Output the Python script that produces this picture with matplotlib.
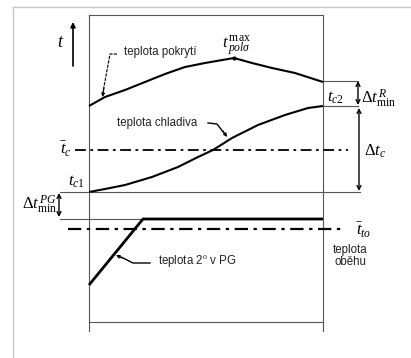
import matplotlib
matplotlib.use("Agg")
import matplotlib.pyplot as plt
from matplotlib.patches import FancyArrowPatch

plt.rcParams['mathtext.fontset'] = 'custom'
plt.rcParams['mathtext.rm'] = 'Liberation Serif'
plt.rcParams['mathtext.it'] = 'Liberation Serif:italic'
plt.rcParams['mathtext.bf'] = 'Liberation Serif:bold'

# ---- data (diagram coordinates, pixel-like units, y grows downward) ----
cover_x = [89, 105, 125, 145, 165, 185, 205, 234, 252, 272, 295, 323]
cover_y = [106, 97, 90, 82, 74, 67, 63, 58, 63, 68, 73, 82]

coolant_x = [89, 105, 125, 152, 178, 198, 213, 232, 258, 285, 308, 323]
coolant_y = [192, 189, 185, 177, 167, 157, 150, 138, 125, 115, 108, 106]

secondary_x = [89, 143, 323]
secondary_y = [285, 219, 219]

box_left, box_right, box_top, box_bottom, box_line = 89, 323, 15, 331, 322
tc_mean_y = 150
tto_mean_y = 229
tc1_y = 192
tc2_y = 106
cover_end_y = 81
pg_y = 219

fig = plt.figure(figsize=(4.11, 3.58), dpi=100)
ax = fig.add_axes([0, 0, 1, 1])
ax.set_xlim(0, 411)
ax.set_ylim(358, 0)
ax.axis('off')

thin = dict(color='#555555', lw=0.8)
# outer light frame
ax.plot([13, 411], [7, 7], color='#c8c8c8', lw=1.0)
ax.plot([13, 13], [7, 358], color='#c8c8c8', lw=1.0)

# inner box
ax.plot([box_left, box_right], [box_top, box_top], **thin)
ax.plot([box_left, box_left], [box_top, box_bottom], **thin)
ax.plot([box_right, box_right], [box_top, box_bottom], **thin)
ax.plot([box_left, box_right], [box_line, box_line], **thin)

# reference lines
ax.plot([box_right, 358], [cover_end_y, cover_end_y], **thin)
ax.plot([box_right, 358], [tc2_y, tc2_y], **thin)
ax.plot([60, 360], [tc1_y, tc1_y], **thin)
ax.plot([60, 143], [pg_y, pg_y], **thin)

# dash-dot mean lines
dd = (0, (6, 2.5, 1.5, 2.5))
ax.plot([75, 348], [tc_mean_y, tc_mean_y], color='black', lw=1.3, linestyle=dd)
ax.plot([68, 342], [tto_mean_y, tto_mean_y], color='black', lw=1.6, linestyle=dd)

# curves
ax.plot(cover_x, cover_y, color='black', lw=1.5, solid_capstyle='butt')
ax.plot(coolant_x, coolant_y, color='black', lw=1.5, solid_capstyle='butt')
ax.plot(secondary_x, secondary_y, color='black', lw=2.0, solid_capstyle='butt')
ax.plot([234], [58], marker='o', ms=2, color='black')

def arrow(p0, p1, style='->', lw=0.9, color='black', ms=6):
    ax.add_patch(FancyArrowPatch(p0, p1, arrowstyle=style, mutation_scale=ms,
                                 lw=lw, color=color, shrinkA=0, shrinkB=0))

# t axis arrow
arrow((73, 66), (73, 22), style='-|>', lw=1.2, ms=7)
ax.text(61, 42, r'$t$', fontsize=13, ha='center', va='center')

sans = dict(fontsize=8.3, family='Liberation Sans', color='#222222')

# leaders
ax.plot([117, 110, 103], [54, 54, 92], color='black', lw=0.8, linestyle=(0, (3, 1)))
arrow((104, 88), (102.5, 97), style='-|>', lw=0.8, ms=5)
ax.text(124, 52, 'teplota pokrytí', ha='left', va='center', **sans)

ax.plot([208, 217, 224], [123, 124, 133], color='black', lw=1.0)
arrow((223, 131), (227, 137), style='-|>', lw=0.8, ms=5)
ax.text(117, 123, 'teplota chladiva', ha='left', va='center', **sans)

ax.plot([150, 133, 121], [263, 263, 257], color='black', lw=1.0)
arrow((122, 258), (116, 255), style='-|>', lw=0.8, ms=5)
ax.text(158, 261, 'teplota 2$^{\\mathrm{o}}$ v PG', ha='left', va='center', **sans)

ax.text(350, 256, 'teplota\noběhu', ha='center', va='center', linespacing=1.1, **sans)

# math labels
ax.text(222, 46, r'$t_{\,pol\sigma}^{\,\mathrm{max}}$', fontsize=12, ha='left', va='center')
ax.text(327, 97, r'$t_{c2}$', fontsize=12, ha='left', va='center')
ax.text(361, 99, r'$\Delta t^{\,R}_{\mathrm{min}}$', fontsize=12, ha='left', va='center')
ax.text(364, 151, r'$\Delta t_c$', fontsize=12, ha='left', va='center')
ax.text(68, 181, r'$t_{c1}$', fontsize=12, ha='left', va='center')
ax.text(57, 205, r'$\Delta t^{\,PG}_{\mathrm{min}}$', fontsize=12, ha='right', va='center')
ax.text(66, 149, r'$\bar{t}_{c}$', fontsize=12, ha='center', va='center')
ax.text(364, 230, r'$\bar{t}_{to}$', fontsize=12, ha='center', va='center')

# double arrows
arrow((358, 81), (358, 105), style='<->', lw=1.0, ms=7)
arrow((359, 108), (359, 191), style='<->', lw=1.0, ms=7)
arrow((59, 193), (59, 217), style='<->', lw=1.0, ms=7)

fig.savefig('out.png', dpi=100)
